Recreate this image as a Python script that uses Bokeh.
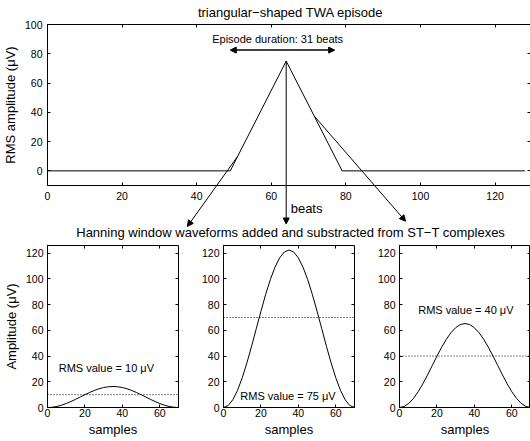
import math

from bokeh.plotting import figure
from bokeh.layouts import column, row
from bokeh.models import (Range1d, FixedTicker, LinearAxis, Arrow, NormalHead,
                          Label)
from bokeh.embed import file_html
from bokeh.resources import INLINE

FONT = "Liberation Sans"

# Triangular TWA episode: RMS amplitude (uV) against beat number
beats = [0, 49, 64, 79, 128]
rms_amplitude = [0, 0, 75, 0, 0]

# Episode duration marker (beats) and its height (uV)
duration_span = [49, 77]
duration_level = 82.5

# Arrows from points on the episode down to the three panels
arrow_start_beat = [51, 64, 71.5]
arrow_start_rms = [10, 75, 37.5]
arrow_end_beat = [37.5, 64, 96]
arrow_end_rms = [-38, -36.3, -34.4]

# Hanning window shape (normalised), one value every 2.5 samples
window_samples = [0, 2.5, 5, 7.5, 10, 12.5, 15, 17.5, 20, 22.5, 25, 27.5, 30, 32.5,
                  35, 37.5, 40, 42.5, 45, 47.5, 50, 52.5, 55, 57.5, 60, 62.5, 65,
                  67.5, 70]
window_shape = [0.0, 0.0125, 0.0495, 0.1091, 0.1883, 0.2831, 0.3887, 0.5, 0.6113,
                0.7169, 0.8117, 0.8909, 0.9505, 0.9875, 1.0, 0.9875, 0.9505,
                0.8909, 0.8117, 0.7169, 0.6113, 0.5, 0.3887, 0.2831, 0.1883,
                0.1091, 0.0495, 0.0125, 0.0]

# RMS value of each window (uV) and the dotted reference level drawn with it
rms_values = [10, 75, 40]
rms_levels = [10, 70, 40]
rms_label_x = [6, 9, 10]
rms_label_y = [31, 9, 76]

top_ticks_x = [0, 20, 40, 60, 80, 100, 120]
top_ticks_y = [0, 20, 40, 60, 80, 100]
panel_ticks_x = [0, 20, 40, 60]
panel_ticks_y = [0, 20, 40, 60, 80, 100, 120]

TICK_PX = "10.5px"
LABEL_PX = "13px"
NOTE_PX = "11px"


def style_axis(ax, ticks, standoff=4):
    ax.ticker = FixedTicker(ticks=ticks)
    ax.minor_tick_line_color = None
    ax.major_tick_in = 3
    ax.major_tick_out = 0
    ax.axis_line_color = "black"
    ax.major_tick_line_color = "black"
    ax.major_label_text_font = FONT
    ax.major_label_text_color = "black"
    ax.major_label_text_font_size = TICK_PX
    ax.major_label_standoff = standoff
    ax.axis_label_text_font = FONT
    ax.axis_label_text_font_style = "normal"
    ax.axis_label_text_font_size = LABEL_PX
    ax.axis_label_text_color = "black"


def tick_only_axis(ticks, show_line, bounds=None, fixed=None):
    # an unlabelled axis: only inward tick marks (drawn as minor ticks)
    ax = LinearAxis(ticker=FixedTicker(ticks=[], minor_ticks=ticks))
    ax.major_tick_line_color = None
    ax.minor_tick_line_color = "black"
    ax.minor_tick_in = 3
    ax.minor_tick_out = 0
    ax.major_label_standoff = 0
    ax.axis_line_color = "black" if show_line else None
    if bounds is not None:
        ax.bounds = bounds
    if fixed is not None:
        ax.fixed_location = fixed
    return ax


def base_figure(width, height, xr, yr, borders, outline=True):
    left, right, top, bottom = borders
    p = figure(width=width, height=height, x_range=Range1d(*xr), y_range=Range1d(*yr),
               output_backend="svg", toolbar_location=None,
               min_border_left=left, min_border_right=right,
               min_border_top=top, min_border_bottom=bottom)
    p.grid.visible = False
    p.outline_line_color = "black" if outline else None
    p.background_fill_color = "white"
    p.border_fill_color = "white"
    return p


# ---- upper panel: the TWA episode ----
# The frame covers the whole strip, so the title, the connecting arrows and the
# caption of the lower row sit inside it; the axes are pinned and bounded to
# the 0..129 beats x -10..100 uV box.
PX_PER_BEAT = 3.7297
PX_PER_UV = 161 / 110
top_x_lo = -47 / PX_PER_BEAT
top_x_hi = top_x_lo + 530 / PX_PER_BEAT
top_y_lo = 100 - 217 / PX_PER_UV
top_y_hi = 100 + 24 / PX_PER_UV
top = base_figure(530, 241, (top_x_lo, top_x_hi), (top_y_lo, top_y_hi), (0, 0, 0, 0),
                  outline=False)

xax = top.xaxis[0]
style_axis(xax, top_ticks_x, standoff=6)
xax.fixed_location = -10
xax.bounds = (0, top_x_hi)
yax = top.yaxis[0]
style_axis(yax, top_ticks_y, standoff=5)
yax.fixed_location = 0
yax.bounds = (-10, 100)
yax.axis_label = "RMS amplitude (\u03bcV)"
yax.axis_label_standoff = 4
top.add_layout(tick_only_axis(top_ticks_x, True, bounds=(0, top_x_hi), fixed=100), "above")
top.add_layout(tick_only_axis(top_ticks_y, True, bounds=(-10, 100)), "right")

top.add_layout(Label(x=65.2, y=100 + 12 / PX_PER_UV,
                     text="triangular\u2212shaped TWA episode", text_font=FONT,
                     text_font_size=LABEL_PX, text_align="center",
                     text_baseline="middle", text_color="black"))

top.line(beats, rms_amplitude, line_color="black", line_width=1)

head = dict(size=6, fill_color="black", line_color="black")
top.add_layout(Arrow(x_start=duration_span[0], y_start=duration_level,
                     x_end=duration_span[1], y_end=duration_level,
                     start=NormalHead(**head), end=NormalHead(**head),
                     line_color="black", line_width=1.5))
top.add_layout(Label(x=(duration_span[0] + duration_span[1]) / 2 - 1.3, y=90.4,
                     text="Episode duration: 31 beats", text_font=FONT,
                     text_font_size=NOTE_PX, text_align="center",
                     text_baseline="middle", text_color="black"))

for xs, ys, xe, ye in zip(arrow_start_beat, arrow_start_rms, arrow_end_beat, arrow_end_rms):
    top.add_layout(Arrow(x_start=xs, y_start=ys, x_end=xe, y_end=ye,
                         end=NormalHead(**head), line_color="black", line_width=1))

top.add_layout(Label(x=65.2, y=-25.7, text="beats", text_font=FONT,
                     text_font_size=LABEL_PX, text_align="left",
                     text_baseline="middle", text_color="black"))
top.add_layout(Label(x=65.2, y=-42.1,
                     text="Hanning window waveforms added and substracted from ST\u2212T complexes",
                     text_font=FONT, text_font_size=LABEL_PX, text_align="center",
                     text_baseline="middle", text_color="black"))

# ---- lower panels: Hanning windows of given RMS value ----
panel_sizes = [(198, (47, 20, 4, 34)), (176, (25, 20, 4, 34)), (156, (25, 0, 4, 34))]
panels = []
for i, (w, borders) in enumerate(panel_sizes):
    p = base_figure(w, 200, (0, 70), (0, 126), borders)
    style_axis(p.xaxis[0], panel_ticks_x, standoff=1)
    style_axis(p.yaxis[0], panel_ticks_y, standoff=4)
    p.xaxis[0].axis_label = "samples"
    p.xaxis[0].axis_label_standoff = 2
    if i == 0:
        p.yaxis[0].axis_label = "Amplitude (\u03bcV)"
        p.yaxis[0].axis_label_standoff = 4
    p.add_layout(tick_only_axis(panel_ticks_x, False), "above")
    p.add_layout(tick_only_axis(panel_ticks_y, False), "right")

    # peak of a Hanning window whose RMS equals the stated value
    peak = rms_values[i] * math.sqrt(8.0 / 3.0)
    p.line(window_samples, [peak * s for s in window_shape], line_color="black",
           line_width=1)
    p.line([window_samples[0], window_samples[-1]], [rms_levels[i]] * 2,
           line_color="black", line_width=1, line_dash="1 2")
    p.add_layout(Label(x=rms_label_x[i], y=rms_label_y[i],
                       text=f"RMS value = {rms_values[i]} \u03bcV", text_font=FONT,
                       text_font_size=NOTE_PX, text_align="left",
                       text_baseline="middle", text_color="black"))
    panels.append(p)

layout = column(top, row(*panels, spacing=0), spacing=0)
open("out.html", "w").write(file_html(layout, INLINE))
